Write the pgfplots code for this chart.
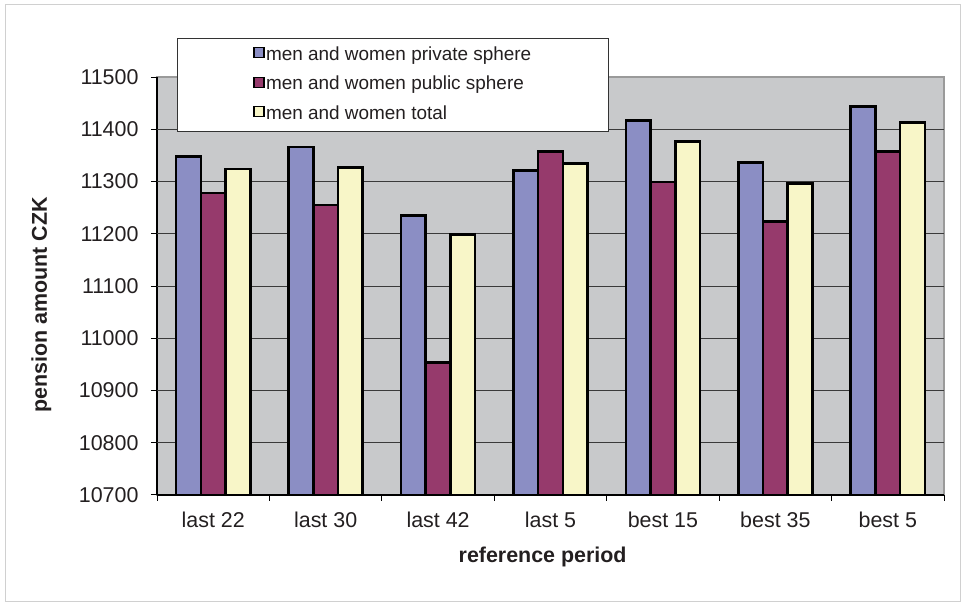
\documentclass[border=0pt]{standalone}
\usepackage{pgfplots}
\pgfplotsset{compat=1.18}
\usepackage{fontspec}
\setmainfont{Liberation Sans}

\definecolor{barblue}{HTML}{8B8EC4}
\definecolor{barpurple}{HTML}{963A6C}
\definecolor{baryellow}{HTML}{F8F6C8}
\definecolor{plotbg}{HTML}{C8C9CB}
\definecolor{gridgray}{HTML}{3A3A3A}
\definecolor{bordergray}{HTML}{9A9A9A}
\definecolor{framegray}{HTML}{D0D0D0}
\definecolor{textdark}{HTML}{231F20}

\pgfplotsset{
  legsq/.style={legend image code/.code={
    \draw[##1, line width=1.2bp] (0bp,-2bp) rectangle (10bp,8bp);}},
  barstyle/.style={legsq, fill=#1, draw=black, line width=2.6bp},
}

\begin{document}
\begin{tikzpicture}
\path[use as bounding box] (0,0) rectangle (965bp,607bp);
\draw[framegray, line width=1bp] (5bp,5bp) rectangle (960bp,602bp);
\begin{axis}[
  at={(157bp,112bp)}, anchor=south west,
  width=787bp, height=418bp, scale only axis,
  % bars rise from the bottom of the value range (10700)
  y coord trafo/.code={\pgfmathparse{#1-10700}},
  y coord inv trafo/.code={\pgfmathparse{#1+10700}},
  ybar=0pt, bar width=24.7bp,
  xmin=-0.5, xmax=6.5, ymin=10700, ymax=11500,
  xtick={0,...,6},
  xticklabels={last 22,last 30,last 42,last 5,best 15,best 35,best 5},
  minor xtick={-0.5,0.5,...,6.5},
  ytick={10700,10800,10900,11000,11100,11200,11300,11400,11500},
  yticklabels={10700,10800,10900,11000,11100,11200,11300,11400,11500},
  scaled y ticks=false,
  extra y ticks={10800,10900,11000,11100,11200,11300,11400},
  extra y tick labels={},
  extra y tick style={grid=major, major tick length=0pt},
  grid style={gridgray, line width=1bp},
  axis lines*=left,
  axis line style={-, black, line width=1.2bp},
  axis background/.style={fill=plotbg, draw=bordergray, line width=1.5bp},
  tick align=outside,
  major tick length=6bp, minor tick length=6bp,
  tick style={black, line width=1bp},
  major x tick style={draw=none},
  tick label style={font=\fontsize{21.5}{24}\selectfont, text=textdark},
  yticklabel style={xshift=-9bp},
  xticklabel style={yshift=-7bp},
  label style={font=\bfseries\fontsize{21.5}{24}\selectfont, text=textdark},
  xlabel={reference period},
  ylabel={pension amount CZK},
  xlabel style={at={(axis description cs:0.49,-0.148)}, anchor=center},
  ylabel style={at={(axis description cs:-0.147,0.455)}, anchor=center},
  legend style={
    at={(axis description cs:0.0254,1.093)}, anchor=north west,
    draw=black!80, line width=0.8bp, fill=white,
    font=\fontsize{19}{22}\selectfont, text=textdark,
    inner xsep=76bp, inner ysep=2.5bp,
    row sep=0bp,
    nodes={inner ysep=6.2bp, inner xsep=1.5bp, text height=13bp, text depth=4bp},
  },
  legend cell align=left,
]
\addplot[barstyle=barblue] coordinates {
  (0,11348) (1,11366) (2,11235) (3,11321) (4,11417) (5,11336) (6,11443)};
\addplot[barstyle=barpurple] coordinates {
  (0,11278) (1,11255) (2,10954) (3,11357) (4,11299) (5,11223) (6,11357)};
\addplot[barstyle=baryellow] coordinates {
  (0,11324) (1,11327) (2,11199) (3,11334) (4,11377) (5,11296) (6,11413)};
\legend{men and women private sphere, men and women public sphere, men and women total}
\end{axis}
\end{tikzpicture}
\end{document}
